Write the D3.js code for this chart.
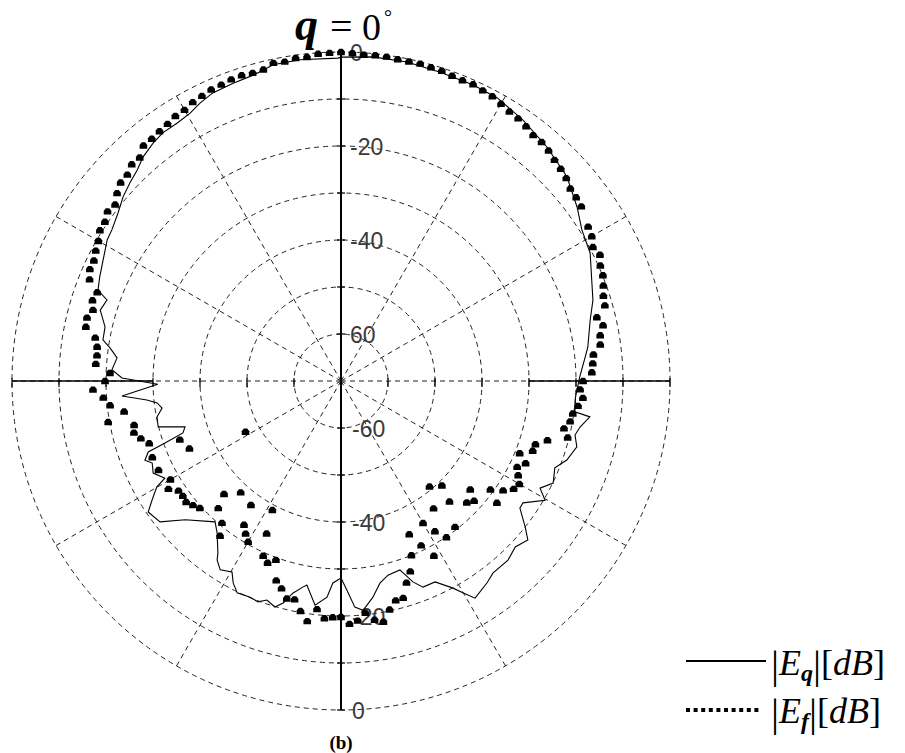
<!DOCTYPE html>
<html>
<head>
<meta charset="utf-8">
<script src="https://cdn.jsdelivr.net/npm/d3@7/dist/d3.min.js"></script>
<style>
  body { margin: 0; background: #fff; }
</style>
</head>
<body>
<svg id="polar" width="905" height="753"></svg>
<script>
// [A] Datos ---------------------------------------------------------------
// |E_theta| (linea continua): angulo en grados (0 = arriba, sentido horario) y nivel en dB
const thetaAngles = [0, 5.6, 11.7, 17.8, 24, 28.9, 34.9, 41.4, 47.9, 53.6, 57.9, 62.8, 68.7, 72.2, 76.2, 82.2, 84.4, 89,
  94, 97.5, 98.2, 100.9, 103, 105.6, 109.3, 112.1, 115.7, 118.3, 120.3, 123.8, 125.4, 128.4, 130.4, 133.6, 137, 141.6,
  144.1, 148.3, 150.1, 151.6, 154.9, 158.3, 160.3, 162.7, 166.4, 169.1, 171.6, 174.5, 176.5, 178.4, 180,
  182.3, 183.7, 186.6, 189.5, 190.5, 192.8, 194.6, 196.3, 198.7, 200.6, 202.8, 206.1, 208.1, 209.7, 212.6, 214.7,
  215.6, 219.2, 221.8, 228.3, 232.1, 235.8, 237.8, 240.1, 241.1, 243.9, 246.5, 248, 249.8, 250.6, 251.8, 253.6,
  255.9, 258.9, 261.4, 263.2, 264.4, 266.1, 269, 270.8, 272.8, 275.9, 278.1, 279.8, 282.9, 286.4, 289.1, 290.5,
  293.3, 297, 301.1, 303.4, 307, 310.2, 313.2, 316, 318.5, 321.7, 324.3, 327.6, 330.6, 333.1, 336, 340.1, 344,
  347.9, 352.7, 359.5];
const thetaDb = [-1.1, -0.7, -0.7, -1.0, -1.0, -1.2, -2.3, -3.7, -5.2, -7.6, -9.5, -10.4, -12.7, -13.7, -15.4, -17.0, -17.8, -19.2,
  -20.0, -19.8, -16.5, -18.2, -18.9, -17.9, -19.1, -20.9, -19.9, -21.9, -19.7, -23.4, -23.3, -20.0, -17.8, -18.8, -17.9, -17.9,
  -17.0, -15.7, -18.0, -19.9, -22.8, -22.8, -24.6, -27.9, -27.5, -26.2, -23.5, -21.0, -21.8, -25.5, -28.1,
  -27.0, -23.9, -22.0, -26.0, -25.4, -23.7, -21.2, -19.9, -20.8, -19.8, -20.1, -19.8, -21.3, -23.2, -22.3, -23.7,
  -25.0, -28.3, -29.8, -25.6, -21.2, -20.4, -22.5, -24.8, -27.2, -25.5, -26.2, -25.0, -26.3, -30.3, -34.6, -35.4,
  -29.9, -30.1, -31.5, -30.6, -28.5, -23.3, -31.0, -23.4, -21.2, -22.1, -20.4, -18.6, -18.5, -16.6, -17.3, -14.8,
  -14.1, -13.2, -11.9, -11.6, -10.6, -9.3, -8.4, -7.6, -6.4, -5.5, -5.0, -5.0, -4.6, -3.7, -2.9, -2.6, -2.3,
  -1.2, -1.1, -1.3];

// |E_phi| (marcadores)
const phiAngles = [0, 2, 4, 6, 8, 10, 12, 14, 16, 18, 20, 22, 24, 26, 28, 30, 32, 34, 36, 38, 40, 42, 44, 46, 48, 50, 52, 54,
  58, 60, 62, 64, 66, 68, 70, 72, 74, 76, 78, 80, 82, 84, 86, 88,
  90, 92, 94, 96, 98, 100, 102, 104, 106, 108, 110, 112, 114, 116, 118, 120, 122, 124, 126, 128, 130, 132, 134,
  136, 138, 140, 142, 144, 146, 148, 150, 152, 154, 156, 158, 160, 162, 164, 166, 168, 170, 172, 174, 176, 178,
  180, 182, 184, 186, 188, 190, 192, 194, 196, 198, 200, 202, 204, 206, 208, 210, 212, 214, 216, 218, 220, 222,
  224, 226, 228, 230, 232, 234, 236, 238, 240, 242, 244, 246, 248, 250, 252, 254, 256, 258, 260, 262, 264, 266,
  268, 270, 272, 274, 276, 278, 280, 282, 284, 286, 288, 290, 292, 294, 296, 298, 300, 302, 304, 306, 308, 310,
  312, 314, 316, 318, 320, 322, 324, 326, 328, 330, 332, 334, 336, 338, 340, 342, 344, 346, 348, 350, 352, 354,
  356, 358];
const phiDb = [0.0, -0.2, -0.4, -0.3, -0.3, -0.5, -0.5, -0.4, -0.55, -0.6, -0.9, -1.0, -0.9, -1.2, -1.4, -1.9, -2.4, -2.6,
  -3.0, -3.6, -3.6, -4.0, -4.6, -5.0, -5.5, -6.3, -6.5, -6.8,
  -8.0, -8.4, -9.3, -8.7, -9.6, -9.9, -10.6, -11.3, -11.6, -13.9, -13.0, -14.0, -14.3, -16.0, -16.3, -16.6,
  -18.5, -19.1, -18.4, -19.3, -20.2, -20.5, -21.5, -20.3, -24.3, -26.5, -26.6, -29.0, -27.0, -28.3, -27.3, -26.2,
  -26.7, -28.4, -30.7, -27.9, -34.1, -31.9, -32.8,
  -39.1, -35.5, -40.7, -30.6, -36.5, -29.9, -32.3, -35.1, -27.9, -31.1, -34.3, -30.0, -26.9, -24.9, -22.0, -21.9,
  -20.3, -18.0, -18.7, -20.4, -18.9, -18.3,
  -19.8, -19.7, -19.4, -21.2, -18.4, -20.3, -22.5, -22.3, -24.1, -25.4, -29.5, -28.3, -29.3, -33.9, -38.9, -30.5,
  -31.7, -33.1, -37.4, -28.2, -30.6, -38.1,
  -32.4, -35.4, -29.6, -28.9, -28.2, -28.4, -28.3, -26.7, -28.1, -47.0, -26.8, -34.7, -26.7, -33.5, -27.1, -25.7,
  -24.6, -25.0, -19.7, -23.4, -20.6, -19.3,
  -17.2, -19.8, -20.8, -17.7, -17.8, -17.6, -16.9, -14.5, -14.3, -15.1, -14.4, -14.8, -12.3, -11.5, -11.5, -10.9,
  -10.4, -9.5, -9.4, -8.6, -9.0, -7.8,
  -6.9, -6.8, -5.9, -6.0, -4.6, -4.6, -4.3, -4.0, -3.5, -3.4, -2.8, -2.5, -2.1, -2.0, -1.7, -1.6, -1.8, -1.7,
  -0.8, -1.0, -0.6, -0.7, -0.2, -0.15];

// Anillos (dB), radios de la rejilla (grados) y etiquetas del eje
const ringDb = [-60, -50, -40, -30, -20, -10, 0];
const spokeAngles = [30, 60, 90, 120, 150, 210, 240, 270, 300, 330];
const topLabelDb = [0, -20, -40, -60];
const topLabelText = ["0", "-20", "-40", "60"];
const bottomLabelDb = [-60, -40, -20, 0];
const bottomLabelText = ["-60", "-40", "-20", "0"];

// [B] Configuracion -------------------------------------------------------
const cx = 341, cy = 381;
const rOuter = 329;
const serif = "'Liberation Serif', 'Times New Roman', serif";

const r = d3.scaleLinear().domain([-70, 0]).range([0, rOuter]).clamp(true);
const rad = a => a * Math.PI / 180;

const svg = d3.select("#polar");
const g = svg.append("g").attr("transform", `translate(${cx},${cy})`);

// [C] Rejilla -------------------------------------------------------------
g.selectAll(".ring")
  .data(ringDb)
  .join("circle")
  .attr("class", "ring")
  .attr("r", d => r(d))
  .attr("fill", "none")
  .attr("stroke", "#222")
  .attr("stroke-width", 1)
  .attr("stroke-dasharray", "5,4");

g.selectAll(".spoke")
  .data(spokeAngles)
  .join("line")
  .attr("class", "spoke")
  .attr("x1", 0).attr("y1", 0)
  .attr("x2", d => rOuter * Math.sin(rad(d)))
  .attr("y2", d => -rOuter * Math.cos(rad(d)))
  .attr("stroke", "#222")
  .attr("stroke-width", 1)
  .attr("stroke-dasharray", "5,4");

// eje horizontal: tramos continuos hacia el exterior
[-1, 1].forEach(s => {
  g.append("line")
    .attr("x1", s * r(-30)).attr("x2", s * rOuter)
    .attr("y1", 0).attr("y2", 0)
    .attr("stroke", "#000").attr("stroke-width", 1.6);
});

// eje vertical
g.append("line")
  .attr("x1", 0).attr("x2", 0)
  .attr("y1", -rOuter).attr("y2", rOuter)
  .attr("stroke", "#000").attr("stroke-width", 2);

// marcas en los ejes
ringDb.forEach(d => {
  [-1, 1].forEach(s => {
    g.append("line")
      .attr("x1", -4).attr("x2", 4)
      .attr("y1", s * r(d)).attr("y2", s * r(d))
      .attr("stroke", "#000").attr("stroke-width", 1.2);
    g.append("line")
      .attr("x1", s * r(d)).attr("x2", s * r(d))
      .attr("y1", -3).attr("y2", 6)
      .attr("stroke", "#000").attr("stroke-width", 1.2);
  });
});

// etiquetas de nivel
const labelStyle = sel => sel
  .attr("font-family", "'Liberation Sans', Arial, sans-serif")
  .attr("font-size", 23)
  .attr("fill", "#3a3a3a")
  .attr("dominant-baseline", "central");

g.selectAll(".lab-top")
  .data(topLabelDb)
  .join("text")
  .attr("class", "lab-top")
  .attr("x", 9)
  .attr("y", d => -r(d) + 1)
  .text((d, i) => topLabelText[i])
  .call(labelStyle);

g.selectAll(".lab-bottom")
  .data(bottomLabelDb)
  .join("text")
  .attr("class", "lab-bottom")
  .attr("x", 11)
  .attr("y", d => r(d) + 1)
  .text((d, i) => bottomLabelText[i])
  .call(labelStyle);

// [D] Series --------------------------------------------------------------
const thetaData = thetaAngles.map((a, i) => ({ a, db: thetaDb[i] }));
const phiData = phiAngles.map((a, i) => ({ a, db: phiDb[i] }));

const radial = d3.lineRadial()
  .angle(d => rad(d.a))
  .radius(d => r(d.db))
  .curve(d3.curveLinearClosed);

g.append("path")
  .datum(thetaData)
  .attr("d", radial)
  .attr("fill", "none")
  .attr("stroke", "#000")
  .attr("stroke-width", 1.1);

const marker = "M-3.8,3.2 L3.8,3.2 L3.8,-0.6 L1.7,-3.2 L-1.7,-3.2 L-3.8,-0.6 Z";
g.selectAll(".mk")
  .data(phiData)
  .join("path")
  .attr("class", "mk")
  .attr("d", marker)
  .attr("transform", d => {
    const rr = r(d.db);
    return `translate(${rr * Math.sin(rad(d.a))},${-rr * Math.cos(rad(d.a))})`;
  })
  .attr("fill", "#000");

// [E] Titulo --------------------------------------------------------------
svg.append("text").attr("x", 295).attr("y", 40)
  .attr("font-family", serif).attr("font-size", 46)
  .attr("font-weight", "bold").attr("font-style", "italic")
  .text("q");
svg.append("text").attr("x", 330).attr("y", 40)
  .attr("font-family", serif).attr("font-size", 40)
  .text("=");
svg.append("text").attr("x", 362).attr("y", 40)
  .attr("font-family", serif).attr("font-size", 38)
  .text("0");
svg.append("text").attr("x", 384).attr("y", 24)
  .attr("font-family", serif).attr("font-size", 20)
  .text("°");

// [F] Leyenda -------------------------------------------------------------
svg.append("line")
  .attr("x1", 686).attr("x2", 766).attr("y1", 661).attr("y2", 661)
  .attr("stroke", "#000").attr("stroke-width", 2);
svg.append("line")
  .attr("x1", 686).attr("x2", 762).attr("y1", 710).attr("y2", 710)
  .attr("stroke", "#000").attr("stroke-width", 4)
  .attr("stroke-dasharray", "4,3.6");

const legendItems = [{ sub: "q", y: 675 }, { sub: "f", y: 723 }];
legendItems.forEach(item => {
  const t = svg.append("text")
    .attr("x", 771).attr("y", item.y)
    .attr("font-family", serif).attr("font-size", 36);
  t.append("tspan").attr("font-size", 40).attr("dy", 3).text("|");
  t.append("tspan").attr("font-style", "italic").attr("dy", -3).text("E");
  t.append("tspan").attr("font-style", "italic").attr("font-weight", "bold")
    .attr("font-size", 24).attr("dy", 6).text(item.sub);
  t.append("tspan").attr("font-size", 40).attr("dy", -3).text("|");
  t.append("tspan").attr("dy", -3).text("[");
  t.append("tspan").attr("font-style", "italic").text("dB");
  t.append("tspan").text("]");
});

// [G] Rotulo (b) ----------------------------------------------------------
svg.append("text")
  .attr("x", cx).attr("y", 749)
  .attr("text-anchor", "middle")
  .attr("font-family", serif).attr("font-size", 19).attr("font-weight", "bold")
  .text("(b)");
</script>
</body>
</html>
